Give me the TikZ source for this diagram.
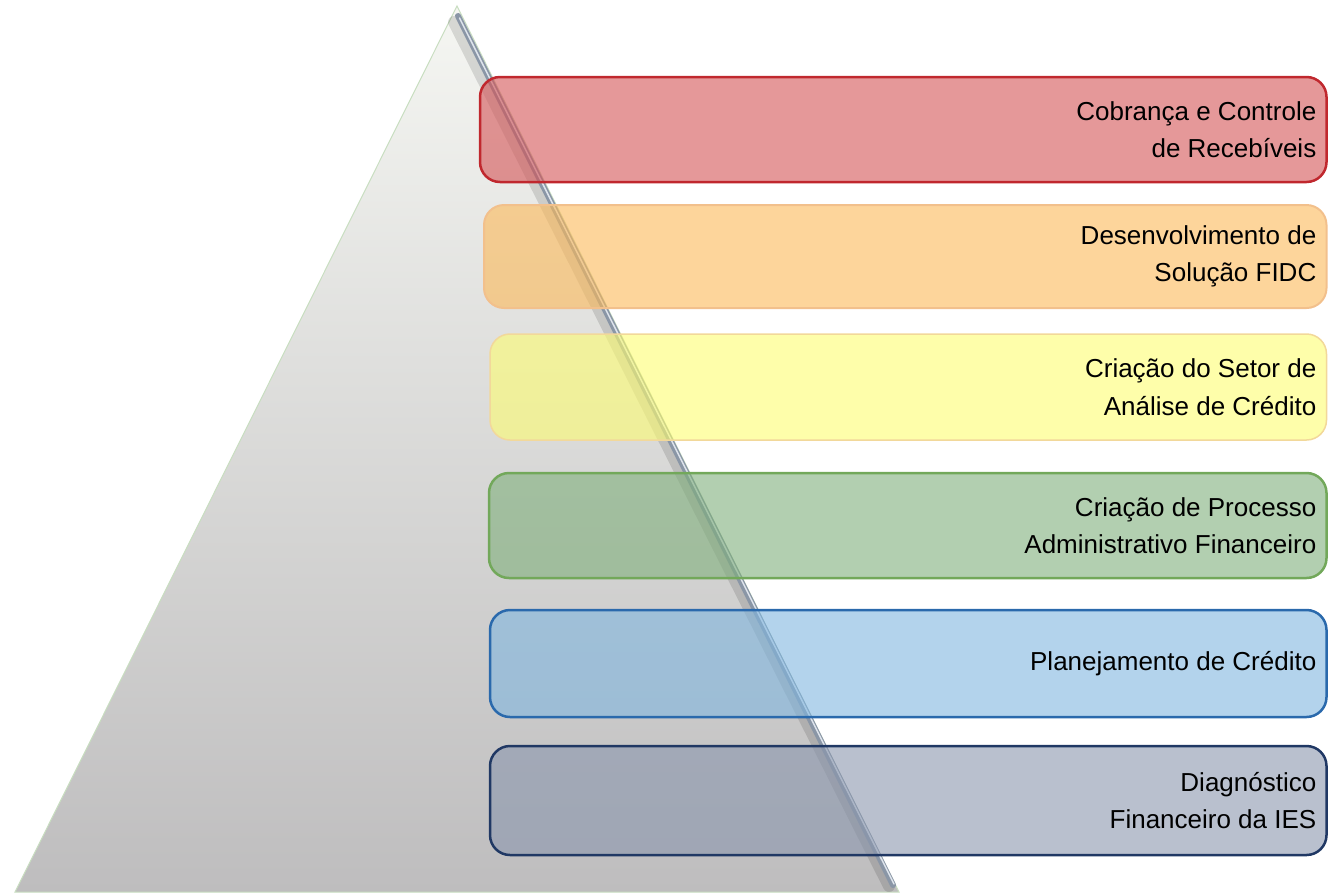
\documentclass[tikz,border=0pt]{standalone}
\usepackage{fontspec}
\setmainfont{Liberation Sans}
\definecolor{pyramid top color}{RGB}{245,246,242}
\definecolor{pyramid bottom color}{RGB}{190,189,190}
\definecolor{pyramid edge color}{RGB}{200,222,192}
\definecolor{bevel color}{RGB}{138,150,166}
\definecolor{bevel light color}{RGB}{222,228,236}
\tikzset{
    x={1pt},
    y={-1pt},
    pyramid body/.style={
        top color=pyramid top color,
        bottom color=pyramid bottom color,
        draw=pyramid edge color,
        line width={1pt},
    },
    pyramid bevel/.style={
        draw={#1},
        line width={6pt},
        line cap=round,
    },
    step box/.style 2 args={
        draw={#1}, fill={#2},
        fill opacity=0.6,
        rectangle, rounded corners={20pt},
        line width={2.5pt},
        inner sep=0pt, outer sep=0pt,
    },
    step label/.style={
        anchor=east,
        align=right,
        inner sep=0pt,
        font={\fontsize{26pt}{37.5pt}\selectfont},
    },
}
\definecolor{stepline0}{HTML}{C0282E}
\definecolor{stepfill0}{RGB}{212,83,85}
\definecolor{stepline1}{HTML}{F2C08C}
\definecolor{stepfill1}{RGB}{252,185,88}
\definecolor{stepline2}{HTML}{F2D89A}
\definecolor{stepfill2}{RGB}{253,253,113}
\definecolor{stepline3}{HTML}{72A85A}
\definecolor{stepfill3}{RGB}{127,175,123}
\definecolor{stepline4}{HTML}{2A69AC}
\definecolor{stepfill4}{RGB}{128,182,223}
\definecolor{stepline5}{HTML}{203864}
\definecolor{stepfill5}{RGB}{138,150,173}
\begin{document}
\begin{tikzpicture}
\useasboundingbox (0,0) rectangle (1329,892);
% pyramid
\coordinate (apex) at (457,6);
\coordinate (base left) at (15,892);
\coordinate (base right) at (899,892);
\path[pyramid body] (apex) -- (base right) -- (base left) -- cycle;
\draw[pyramid bevel={black}, line width={12pt}, opacity=0.12] (454,22) -- (889,886);
\draw[pyramid bevel={bevel color}] (458,16) -- (893,885);
\draw[pyramid bevel={bevel light color}, line width={1.5pt}] (459.5,18) -- (894,884);
% steps
\node[step box={stepline0}{stepfill0}, minimum width={846.5}, minimum height={105}] (cobranca) at (903.25,129.5) {};
\node[step box={stepline1}{stepfill1}, minimum width={842.5}, minimum height={103}, line width={2pt}] (fidc) at (905.25,256.5) {};
\node[step box={stepline2}{stepfill2}, minimum width={836.5}, minimum height={106}, line width={1.5pt}] (analise) at (908.25,387) {};
\node[step box={stepline3}{stepfill3}, minimum width={837.5}, minimum height={105}] (processo) at (907.75,525.5) {};
\node[step box={stepline4}{stepfill4}, minimum width={836.5}, minimum height={107}] (planejamento) at (908.25,663.5) {};
\node[step box={stepline5}{stepfill5}, minimum width={836.5}, minimum height={109}] (diagnostico) at (908.25,800.5) {};
% labels
\node[step label] (cobranca label) at ([xshift=-10pt]cobranca.east) {Cobrança e Controle\\de Recebíveis};
\node[step label] (fidc label) at ([xshift=-10pt]fidc.east) {Desenvolvimento de\\Solução FIDC};
\node[step label] (analise label) at ([xshift=-10pt]analise.east) {Criação do Setor de\\Análise de Crédito};
\node[step label] (processo label) at ([xshift=-10pt]processo.east) {Criação de Processo\\Administrativo Financeiro};
\node[step label] (planejamento label) at ([xshift=-10pt]planejamento.east) {Planejamento de Crédito};
\node[step label] (diagnostico label) at ([xshift=-10pt]diagnostico.east) {Diagnóstico\\Financeiro da IES};
\end{tikzpicture}
\end{document}
